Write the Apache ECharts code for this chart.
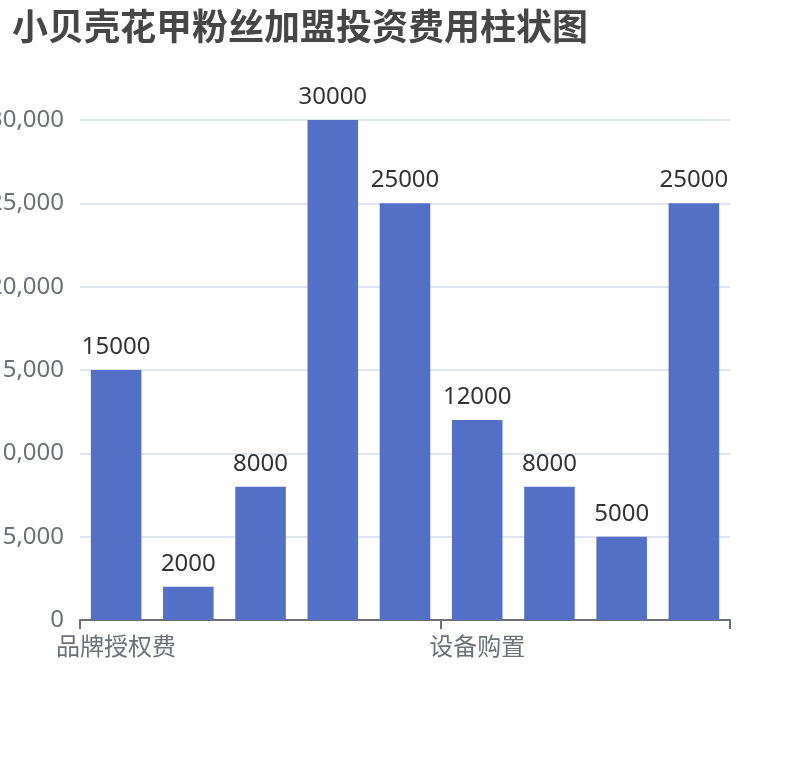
<!DOCTYPE html>
<html>
<head>
<meta charset="utf-8">
<script src="https://cdn.jsdelivr.net/npm/echarts@6/dist/echarts.min.js"></script>
<style>
html, body { margin: 0; padding: 0; background: #fff; }
#main { width: 810px; height: 760px; }
</style>
</head>
<body>
<div id="main"></div>
<script>
var costNames = ['品牌授权费', '加盟管理费', '保证金', '店面装修', '店面租金', '设备购置', '首批原料', '人员培训', '流动资金'];
var costValues = [15000, 2000, 8000, 30000, 25000, 12000, 8000, 5000, 25000];

var chart = echarts.init(document.getElementById('main'));
chart.setOption({
    title: {
        text: '小贝壳花甲粉丝加盟投资费用柱状图',
        left: 7,
        top: 3,
        textStyle: {
            fontSize: 36,
            fontWeight: 'bold',
            color: '#464646',
            fontFamily: 'Noto Sans CJK SC'
        }
    },
    grid: {
        left: 80,
        right: 80,
        top: 120,
        bottom: 140,
        containLabel: false,
        outerBoundsMode: 'none'
    },
    xAxis: {
        type: 'category',
        data: costNames,
        axisTick: {
            show: true,
            interval: 4,
            length: 9,
            lineStyle: { color: '#6e7079', width: 2 }
        },
        axisLine: { lineStyle: { color: '#6e7079', width: 2 } },
        axisLabel: {
            interval: 4,
            fontSize: 24,
            margin: 14,
            color: '#6e7079',
            fontFamily: 'Noto Sans CJK SC'
        }
    },
    yAxis: {
        type: 'value',
        min: 0,
        max: 30000,
        interval: 5000,
        splitLine: { lineStyle: { color: '#e0e6f1', width: 2 } },
        axisLabel: {
            fontSize: 24,
            margin: 16,
            color: '#6e7079',
            fontFamily: 'Noto Sans'
        }
    },
    series: [{
        type: 'bar',
        data: costValues,
        barCategoryGap: '30%',
        itemStyle: { color: '#5470c6' },
        label: {
            show: true,
            position: 'top',
            distance: 11,
            fontSize: 24,
            color: '#333',
            fontFamily: 'Noto Sans'
        }
    }],
    animation: false
});
</script>
</body>
</html>
